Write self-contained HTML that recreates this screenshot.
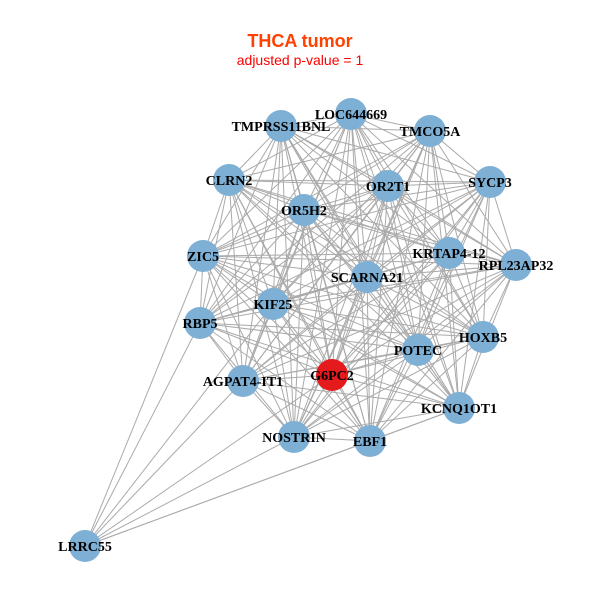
<!DOCTYPE html>
<html><head><meta charset="utf-8"><style>
html,body{margin:0;padding:0;background:#fff;width:600px;height:600px;overflow:hidden}
</style></head><body>
<svg id="g" width="600" height="600" xmlns="http://www.w3.org/2000/svg">
<rect width="600" height="600" fill="#fff"/>
<text x="300" y="47" text-anchor="middle" font-family="Liberation Sans, sans-serif" font-weight="bold" font-size="18" fill="#ff4000">THCA tumor</text>
<text x="300" y="65" text-anchor="middle" font-family="Liberation Sans, sans-serif" font-size="14" fill="#ff0000">adjusted p-value = 1</text>
<g id="edges" stroke="#aaaaaa" stroke-width="1"></g>
<g id="nodes"></g>
<g id="labels" font-family="Liberation Serif, serif" font-weight="bold" font-size="14" fill="#000" text-anchor="middle"></g>
</svg>
<script>
var N=[["LOC644669",351,114],["TMPRSS11BNL",281,126],["TMCO5A",430,131],["CLRN2",229,180],["OR2T1",388,186],["SYCP3",490,182],["OR5H2",304,210],["ZIC5",203,256],["KRTAP4-12",449,253],["RPL23AP32",516,265],["SCARNA21",367,277],["KIF25",273,304],["RBP5",200,323],["HOXB5",483,337],["POTEC",418,350],["G6PC2",332,375],["AGPAT4-IT1",243,381],["KCNQ1OT1",459,408],["NOSTRIN",294,437],["EBF1",370,441]];
var L=["LRRC55",85,546];
var ns="http://www.w3.org/2000/svg";
var E=document.getElementById("edges"),ND=document.getElementById("nodes"),LB=document.getElementById("labels");
function line(a,b){var l=document.createElementNS(ns,"line");l.setAttribute("x1",a[1]);l.setAttribute("y1",a[2]);l.setAttribute("x2",b[1]);l.setAttribute("y2",b[2]);E.appendChild(l);}
for(var i=0;i<N.length;i++)for(var j=i+1;j<N.length;j++)line(N[i],N[j]);
["ZIC5","RBP5","AGPAT4-IT1","NOSTRIN","EBF1","G6PC2","KCNQ1OT1","KIF25"].forEach(function(n){N.forEach(function(x){if(x[0]==n)line(L,x);});});
N.concat([L]).forEach(function(x){var c=document.createElementNS(ns,"circle");c.setAttribute("cx",x[1]);c.setAttribute("cy",x[2]);c.setAttribute("r",16);c.setAttribute("fill",x[0]=="G6PC2"?"#e41a1c":"#7eafd4");ND.appendChild(c);
var t=document.createElementNS(ns,"text");t.setAttribute("x",x[1]);t.setAttribute("y",x[2]+5);t.textContent=x[0];LB.appendChild(t);});
</script>
</body></html>
